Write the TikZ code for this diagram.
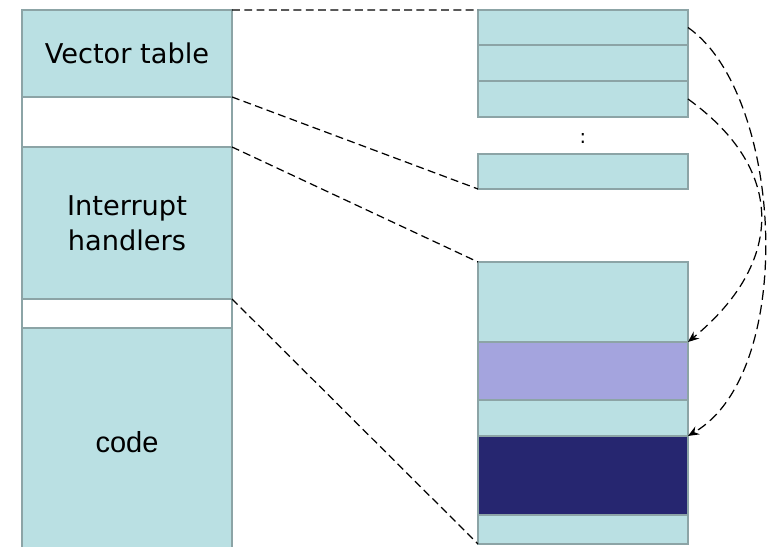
\documentclass[tikz,border=0pt]{standalone}
\usepackage{fontspec}
\setmainfont{DejaVu Sans}
\newfontfamily\arialfont{Liberation Sans}
\usepackage{tikz}
\usetikzlibrary{positioning, arrows.meta}
\definecolor{CellTeal}{RGB}{186,224,227}
\definecolor{CellEdge}{RGB}{140,164,166}
\definecolor{HandlerLilac}{RGB}{164,164,222}
\definecolor{HandlerNavy}{RGB}{38,38,112}
\tikzset{
  cell/.style={draw=CellEdge, line width=1.2pt, fill=CellTeal, minimum width=4.2cm,
    inner sep=0pt, outer sep=0pt, font=\fontsize{15.5}{20}\selectfont},
  gapcell/.style={cell, fill=white},
  link/.style={line width=0.7pt, dash pattern=on 4.5pt off 2.5pt},
  jump/.style={line width=0.7pt, dash pattern=on 5.5pt off 3pt, -{Stealth[length=2.2mm, width=1.8mm]}}
}

\begin{document}
\begin{tikzpicture}[x=0.02cm, y=-0.02cm]
      \useasboundingbox (0,0) rectangle (769,547);
      \clip (0,0) rectangle (769,547);
      % memory map
      \node[cell, minimum height=1.74cm] (vec) at (127,53.5) {Vector table};
      \node[gapcell, minimum height=1cm, below=0pt of vec] (gapA) {};
      \node[cell, minimum height=3.04cm, align=center, below=0pt of gapA] (isr) {Interrupt\\handlers};
      \node[gapcell, minimum height=0.58cm, below=0pt of isr] (gapB) {};
      \node[cell, minimum height=4.56cm, below=0pt of gapB] (code) {\arialfont\fontsize{16.5}{20}\selectfont code};
      % vector entries
      \node[cell, minimum height=0.7cm] (vA) at (583,27.5) {};
      \node[cell, minimum height=0.72cm, below=0pt of vA] (vB) {};
      \node[cell, minimum height=0.72cm, below=0pt of vB] (vC) {};
      \node[font=\fontsize{11}{12}\selectfont] (dots) at (583,139) {:};
      \node[cell, minimum height=0.7cm] (vN) at (583,171.5) {};
      % handler code
      \node[cell, minimum height=1.6cm] (hA) at (583,302) {};
      \node[cell, fill=HandlerLilac, minimum height=1.16cm, below=0pt of hA] (hB) {};
      \node[cell, minimum height=0.72cm, below=0pt of hB] (hC) {};
      \node[cell, fill=HandlerNavy, minimum height=1.58cm, below=0pt of hC] (hD) {};
      \node[cell, minimum height=0.58cm, below=0pt of hD] (hE) {};
      % zoom lines
      \draw[link] (vec.north east) -- (vA.north west);
      \draw[link] (vec.south east) -- (vN.south west);
      \draw[link] (isr.north east) -- (hA.north west);
      \draw[link] (isr.south east) -- (hE.south west);
      % vectors pointing into handlers
      \draw[jump] (vA.east) .. controls +(95,66) and +(110,-64) .. (hD.north east);
      \draw[jump] (vC.east) .. controls +(100,72) and +(95,-78) .. (hB.north east);
\end{tikzpicture}
\end{document}
